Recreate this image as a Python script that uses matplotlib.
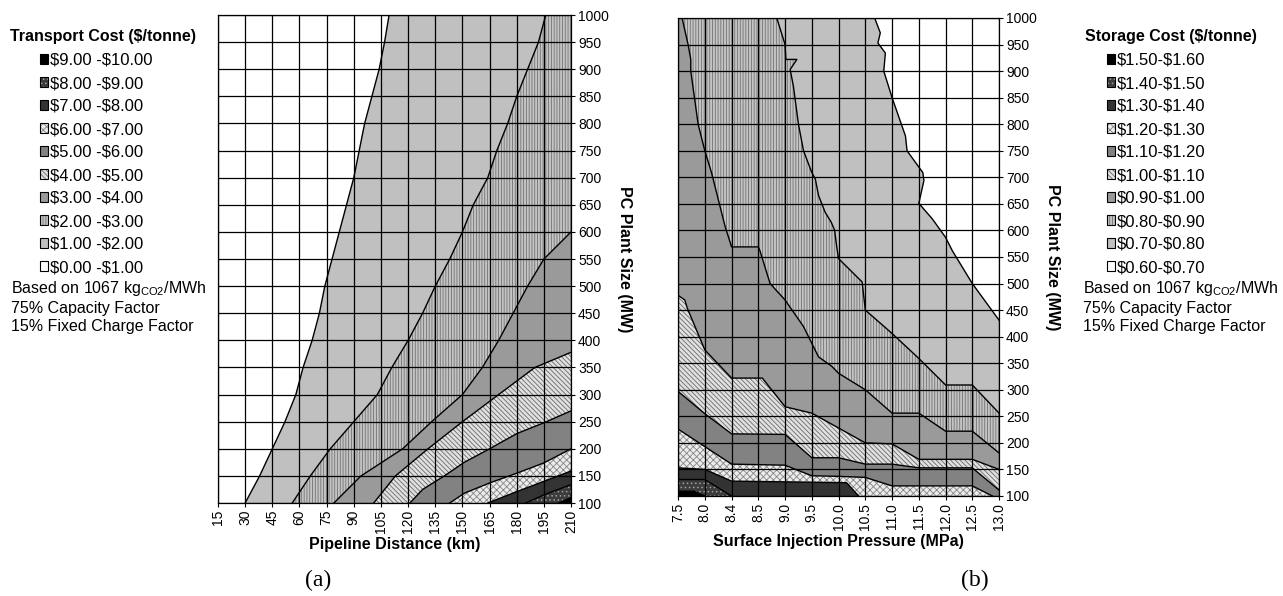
import matplotlib.pyplot as plt
from matplotlib.patches import Patch
from matplotlib.legend_handler import HandlerTuple

plt.rcParams['font.family'] = ['Liberation Sans', 'DejaVu Sans']
plt.rcParams['mathtext.fontset'] = 'custom'
plt.rcParams['mathtext.rm'] = 'Liberation Sans'
plt.rcParams['hatch.linewidth'] = 0.6

# ---- data ----
km_ticks = [15, 30, 45, 60, 75, 90, 105, 120, 135, 150, 165, 180, 195, 210]
mw_ticks = [100, 150, 200, 250, 300, 350, 400, 450, 500, 550, 600, 650, 700,
            750, 800, 850, 900, 950, 1000]
pressure_labels = ['7.5', '8.0', '8.4', '8.5', '9.0', '9.5', '10.0', '10.5',
                   '11.0', '11.5', '12.0', '12.5', '13.0']

transport_labels = [r'\$0.00 -\$1.00', r'\$1.00 -\$2.00', r'\$2.00 -\$3.00',
                    r'\$3.00 -\$4.00', r'\$4.00 -\$5.00', r'\$5.00 -\$6.00',
                    r'\$6.00 -\$7.00', r'\$7.00 -\$8.00', r'\$8.00 -\$9.00',
                    r'\$9.00 -\$10.00']
storage_labels = [r'\$0.60-\$0.70', r'\$0.70-\$0.80', r'\$0.80-\$0.90',
                  r'\$0.90-\$1.00', r'\$1.00-\$1.10', r'\$1.10-\$1.20',
                  r'\$1.20-\$1.30', r'\$1.30-\$1.40', r'\$1.40-\$1.50',
                  r'\$1.50-\$1.60']

# contour lines of transport cost ($1 ... $9), pipeline km vs plant MW
transport_km = [
    [30, 38, 45, 52, 58, 62, 67, 71, 74, 78, 82, 86, 90, 93, 96, 100, 104, 107, 109.5],
    [56, 66, 77, 90, 103, 111, 120, 128, 135, 143, 150, 156, 164, 169, 175, 180, 186, 192, 196],
    [79, 94, 117, 133, 150, 161, 170, 178, 186, 195, 210],
    [101, 113, 131, 150, 170, 190, 210],
    [121, 128, 140, 151, 165, 180, 195, 210],
    [143, 151, 165, 180, 195, 210],
    [164, 180, 195, 210],
    [185, 195, 210],
    [203, 210],
]
transport_mw = [
    [100, 150, 200, 250, 300, 350, 400, 450, 500, 550, 600, 650, 700, 750, 800, 850, 900, 950, 1000],
    [100, 150, 200, 250, 300, 350, 400, 450, 500, 550, 600, 650, 700, 750, 800, 850, 900, 950, 1000],
    [100, 150, 200, 250, 300, 350, 400, 450, 500, 550, 600],
    [100, 150, 200, 250, 300, 350, 378],
    [100, 125, 150, 175, 200, 228, 248, 270],
    [100, 118, 137, 155, 174, 200],
    [100, 121, 140, 159],
    [100, 115, 134],
    [100, 110],
]

# contour lines of storage cost ($0.70 ... $1.50);
# x is the slot on the pressure axis (0 = 7.5 MPa ... 12 = 13.0 MPa)
storage_pos = [
    [7.35, 7.56, 7.47, 7.75, 7.69, 8.0, 8.5, 8.56, 9.15, 9.19, 9.0, 9.5, 10.0, 10.25, 11.0, 12.0],
    [3.69, 4.0, 4.03, 4.44, 4.19, 4.31, 4.5, 4.69, 5.0, 5.13, 5.25, 5.5, 5.72, 5.85, 5.94,
     6.0, 6.88, 7.0, 8.0, 9.0, 10.0, 11.0, 12.0],
    [0.15, 0.375, 0.475, 0.475, 0.75, 1.0, 1.25, 1.5, 1.75, 2.0, 3.0, 3.06, 3.44, 4.0,
     4.69, 5.25, 5.75, 6.0, 7.0, 8.0, 9.0, 10.0, 11.0, 12.0],
    [0, 0.25, 0.35, 1, 2, 3.15, 4, 5, 6, 7, 8, 9, 11, 12],
    [0, 1, 2, 4, 5, 6, 7, 8, 9, 11, 12],
    [0, 1, 2, 4, 5, 6, 7, 8, 11, 11.75],
    [0, 1, 2, 6.3, 6.75],
    [0, 1, 2],
    [0, 0.6, 1.0],
]
storage_mw = [
    [1000, 972, 953, 934, 900, 850, 778, 750, 709, 694, 651, 622, 587, 562, 500, 431],
    [1000, 950, 922, 922, 903, 872, 800, 750, 709, 697, 666, 634, 616, 601, 566,
     547, 503, 450, 406, 359, 309, 309, 256],
    [1000, 950, 922, 900, 800, 750, 709, 659, 609, 569, 569, 562, 500, 469,
     419, 362, 344, 331, 300, 256, 256, 222, 222, 181],
    [478, 469, 453, 375, 322, 322, 268, 256, 228, 200, 198, 169, 169, 150],
    [297, 255, 217, 216, 172, 172, 160, 160, 153, 153, 111],
    [226, 193, 160, 158, 138, 137, 135, 119, 119, 100],
    [153, 150, 128, 125, 100],
    [131, 131, 100],
    [109, 109, 100],
]

# band styles, lowest cost first: (face, hatch, hatch colour)
band_styles = [
    ('#ffffff', None, 'none'),
    ('#c0c0c0', None, 'none'),
    ('#c4c4c4', '||||||', '#727272'),
    ('#9a9a9a', None, 'none'),
    ('#e0e0e0', '\\\\\\\\\\\\\\', '#6a6a6a'),
    ('#828282', None, 'none'),
    ('#ececec', 'xxxxx', '#858585'),
    ('#333333', None, 'none'),
    ('#3c3c3c', '....', '#a0a0a0'),
    ('#000000', None, 'none'),
]


def style_axes(ax, xlabel):
    ax.yaxis.tick_right()
    ax.yaxis.set_label_position('right')
    ax.set_yticks(mw_ticks)
    ax.set_ylim(100, 1000)
    ax.grid(True, color='black', lw=0.9)
    ax.set_axisbelow(False)
    ax.tick_params(direction='out', length=3, width=0.8, labelsize=10, pad=2)
    ax.set_xlabel(xlabel, fontsize=11.5, fontweight='bold', labelpad=3)
    ax.set_ylabel('PC Plant Size (MW)', fontsize=11.5, fontweight='bold',
                  rotation=-90, va='bottom', labelpad=6)
    for s in ax.spines.values():
        s.set_linewidth(0.9)


def fill_band(ax, xs, ys, level):
    face, hatch, hcol = band_styles[level]
    ax.fill(xs, ys, facecolor=face, hatch=hatch, edgecolor=hcol, lw=0, zorder=1)


def legend_handles():
    hs = []
    for face, hatch, hcol in band_styles[::-1]:
        hs.append((Patch(facecolor=face, hatch=hatch, edgecolor=hcol, lw=0),
                   Patch(fill=False, edgecolor='black', lw=0.8)))
    return hs


fig = plt.figure(figsize=(12.83, 5.96), dpi=100)

# ---- (a) transport ----
ax_a = fig.add_axes([0.1699, 0.156, 0.2752, 0.8188])
ax_a.set_xlim(15, 210)
for k in range(len(transport_km)):
    xs = transport_km[k]
    ys = transport_mw[k]
    fill_band(ax_a, xs + [210, 210], ys + [ys[-1], 100], k + 1)
for k in range(len(transport_km)):
    ax_a.plot(transport_km[k], transport_mw[k], color='black', lw=1.0, zorder=2)
ax_a.set_xticks(km_ticks)
ax_a.set_xticklabels([str(v) for v in km_ticks], rotation=90)
style_axes(ax_a, 'Pipeline Distance (km)')

# ---- (b) storage ----
ax_b = fig.add_axes([0.5285, 0.1678, 0.2502, 0.802])
ax_b.set_xlim(0, 12)
for k in range(len(storage_pos)):
    xs = storage_pos[k]
    ys = storage_mw[k]
    fill_band(ax_b, xs + [xs[-1], 0, 0], ys + [100, 100, ys[0]], k + 1)
for k in range(len(storage_pos)):
    ax_b.plot(storage_pos[k], storage_mw[k], color='black', lw=1.0, zorder=2)
ax_b.set_xticks(range(len(pressure_labels)))
ax_b.set_xticklabels(pressure_labels, rotation=90)
style_axes(ax_b, 'Surface Injection Pressure (MPa)')

# ---- legends and notes ----
notes = [r'Based on 1067 kg$_{\mathregular{CO2}}$/MWh', '75% Capacity Factor',
         '15% Fixed Charge Factor']
for title, labels, tx, lx, nx in [('Transport Cost (\\$/tonne)', transport_labels, 10, 40, 11),
                                  ('Storage Cost (\\$/tonne)', storage_labels, 1085, 1107, 1083)]:
    fig.text(tx / 1283, 1 - 37 / 596, title, fontsize=11.5, fontweight='bold',
             va='center')
    fig.legend(legend_handles(), labels[::-1], loc='upper left',
               bbox_to_anchor=(lx / 1283, 1 - 53 / 596), frameon=False,
               fontsize=12, handlelength=0.45, handleheight=0.55,
               handletextpad=0.15, labelspacing=0.48, borderpad=0,
               borderaxespad=0,
               handler_map={tuple: HandlerTuple(ndivide=1, pad=0)})
    for j, n in enumerate(notes):
        fig.text(nx / 1283, 1 - (289 + 19 * j) / 596, n, fontsize=11.5, va='center')

fig.text(318 / 1283, 1 - 580 / 596, '(a)', family='Liberation Serif', fontsize=17,
         ha='center', va='center')
fig.text(975 / 1283, 1 - 580 / 596, '(b)', family='Liberation Serif', fontsize=17,
         ha='center', va='center')

fig.savefig('out.png', dpi=100)
